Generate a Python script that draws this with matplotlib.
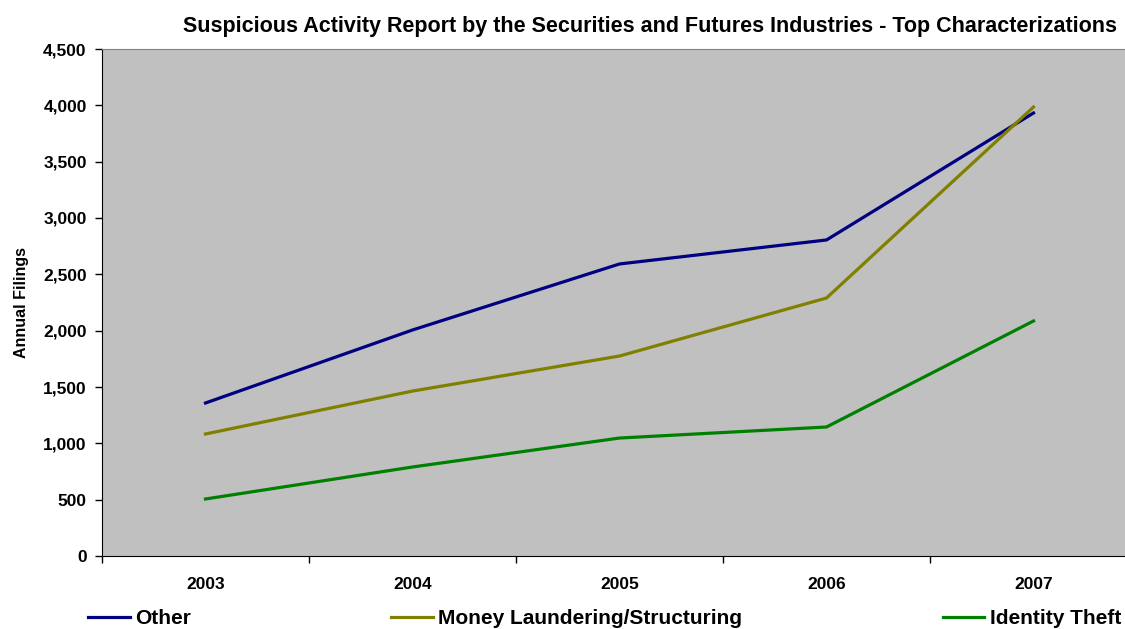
import matplotlib
matplotlib.use("Agg")
import matplotlib.pyplot as plt

plt.rcParams["font.family"] = ["Liberation Sans", "DejaVu Sans"]
plt.rcParams["font.weight"] = "bold"

years = ["2003", "2004", "2005", "2006", "2007"]
other = [1358, 2006, 2592, 2805, 3932]
money_laundering = [1083, 1464, 1775, 2290, 3985]
identity_theft = [506, 790, 1047, 1145, 2086]

series = [
    ("Other", other, "#000080"),
    ("Money Laundering/Structuring", money_laundering, "#808000"),
    ("Identity Theft", identity_theft, "#008000"),
]

fig = plt.figure(figsize=(11.25, 6.29), dpi=100)
ax = fig.add_axes([102 / 1125, 73 / 629, 1035 / 1125, 507 / 629])
ax.set_facecolor("#C0C0C0")

x_centers = [i + 0.5 for i in range(len(years))]
for label, values, color in series:
    ax.plot(x_centers, values, color=color, linewidth=2.3, label=label, solid_joinstyle="miter")

ax.set_xlim(0, len(years))
ax.set_ylim(0, 4500)
ax.set_yticks(range(0, 4501, 500))
ax.set_yticklabels([f"{v:,}" for v in range(0, 4501, 500)], fontsize=12.5, fontweight="bold")
ax.set_xticks(range(0, len(years) + 1))
ax.set_xticklabels([])
ax.set_xticks(x_centers, minor=True)
ax.set_xticklabels(years, minor=True, fontsize=12.5, fontweight="bold")
ax.tick_params(axis="x", which="major", length=5, width=1, direction="out")
ax.tick_params(axis="x", which="minor", length=0, pad=15)
ax.tick_params(axis="y", length=5, width=1, direction="out", pad=6)

ax.spines["left"].set_color("black")
ax.spines["bottom"].set_color("black")
ax.spines["top"].set_color("#808080")
ax.spines["right"].set_visible(False)

ax.set_ylabel("Annual Filings", fontsize=11.5, fontweight="bold", labelpad=10)
ax.set_title("Suspicious Activity Report by the Securities and Futures Industries - Top Characterizations",
             fontsize=15.5, fontweight="bold", x=(1117 - 102) / 1035, ha="right", pad=12)

fig.legend(loc="center left", bbox_to_anchor=(88 / 1125, 0 / 629, 1033 / 1125, 20 / 629),
           mode="expand", ncol=3, frameon=False, handlelength=2.0,
           handletextpad=0.25, borderaxespad=0, borderpad=0, prop={"weight": "bold", "size": 15})

fig.savefig("out.png", dpi=100)
